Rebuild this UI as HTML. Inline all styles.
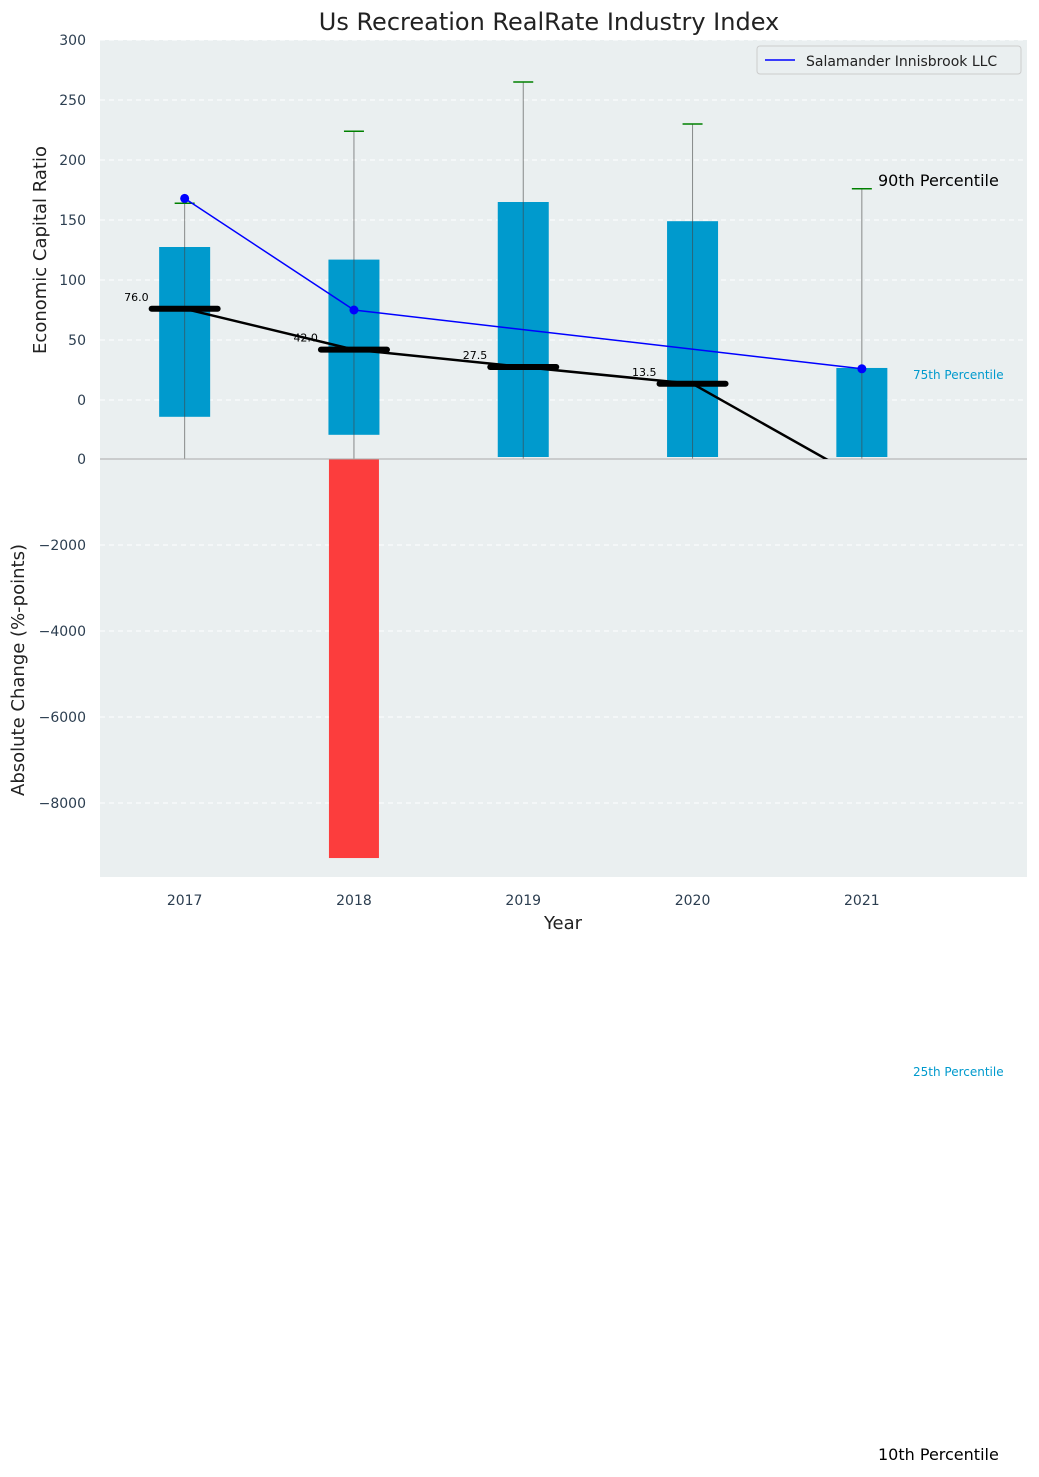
<!DOCTYPE html>
<html><head><meta charset="utf-8"><style>
body{margin:0;background:#fff;font-family:"DejaVu Sans","Liberation Sans",sans-serif}
</style></head><body>
<svg id="c" width="1039" height="1473" xmlns="http://www.w3.org/2000/svg" font-family="DejaVu Sans, Liberation Sans, sans-serif"></svg>
<script>
const years=[2017,2018,2019,2020,2021];
const q75=[127.5,117,165,149,26.7];
const q25=[-14,-29,-48,-48,-48];
const p90=[164,224,265,230,176];
const medians=[76,42,27.5,13.5,-66];
const medianLabels=["76.0","42.0","27.5","13.5"];
const companyYears=[2017,2018,2021];
const companyVals=[168,75,26];
const changeVals=[0,-9280,0,0,0];
const upperTicks=[300,250,200,150,100,50,0];
const lowerTicks=[0,-2000,-4000,-6000,-8000];

const svg=document.getElementById('c');const NS='http://www.w3.org/2000/svg';
function el(t,a,txt){const e=document.createElementNS(NS,t);for(const k in a)e.setAttribute(k,a[k]);if(txt!==undefined)e.textContent=txt;svg.appendChild(e);return e;}
const L=100,R=1027,T=40,B=877,MID=459;
const x=v=>L+(v-2016.5)*169.3;
const yU=v=>400-v*1.2;
const yL=v=>MID-v*(-86/-2000);
let e;
e=el('rect',{x:L,y:T,width:R-L,height:B-T,fill:'#eaeff0'});

upperTicks.forEach(t=>{e=el('line',{x1:L,x2:R,y1:yU(t),y2:yU(t),stroke:'#fff','stroke-dasharray':'5,4'});
e=el('text',{x:L-14,y:yU(t)+5,'text-anchor':'end','font-size':14,fill:'#2c3e50'},t);});
lowerTicks.forEach(t=>{if(t!==0){e=el('line',{x1:L,x2:R,y1:yL(t),y2:yL(t),stroke:'#fff','stroke-dasharray':'5,4'});}
e=el('text',{x:L-14,y:yL(t)+5,'text-anchor':'end','font-size':14,fill:'#2c3e50'},String(t).replace('-','\u2212'));});
// change bars
years.forEach((yr,i)=>{if(changeVals[i]<0){e=el('rect',{x:x(yr)-25,y:MID,width:50,height:yL(changeVals[i])-MID,fill:'#fc3d3d'});}});
// boxes
years.forEach((yr,i)=>{const top=yU(q75[i]),bot=Math.min(yU(q25[i]),457);
e=el('rect',{x:x(yr)-25.5,y:top,width:51,height:bot-top,fill:'#009acd'});
e=el('line',{x1:x(yr),x2:x(yr),y1:MID,y2:yU(p90[i]),stroke:'#444','stroke-opacity':0.6,'stroke-width':1});
e=el('line',{x1:x(yr)-10,x2:x(yr)+10,y1:yU(p90[i]),y2:yU(p90[i]),stroke:'green','stroke-width':1.5});});
el('line',{x1:L,x2:R,y1:MID,y2:MID,stroke:'#aaa','stroke-width':1});
const cp=el('clipPath',{id:'cp'});const cr=document.createElementNS(NS,'rect');cr.setAttribute('x',L);cr.setAttribute('y',T);cr.setAttribute('width',R-L);cr.setAttribute('height',MID-T);cp.appendChild(cr);
e=el('polyline',{points:years.map((yr,i)=>x(yr)+','+yU(medians[i])).join(' '),fill:'none',stroke:'#000','stroke-width':2.5,'clip-path':'url(#cp)'});
medianLabels.forEach((lb,i)=>{const yr=years[i];
e=el('line',{x1:x(yr)-33,x2:x(yr)+33,y1:yU(medians[i]),y2:yU(medians[i]),stroke:'#000','stroke-width':6,'stroke-linecap':'round'});
e=el('text',{x:x(yr)-36,y:yU(medians[i])-8,'text-anchor':'end','font-size':11,fill:'#000'},lb);});
e=el('polyline',{points:companyYears.map((yr,i)=>x(yr)+','+yU(companyVals[i])).join(' '),fill:'none',stroke:'#0000ff','stroke-width':1.5});
companyYears.forEach((yr,i)=>{e=el('circle',{cx:x(yr),cy:yU(companyVals[i]),r:4.5,fill:'#0000ff'});});
years.forEach(yr=>{e=el('text',{x:x(yr),y:905,'text-anchor':'middle','font-size':14,fill:'#2c3e50'},yr);});
e=el('text',{x:563,y:929,'text-anchor':'middle','font-size':18,fill:'#222'},'Year');
e=el('text',{x:549,y:30,'text-anchor':'middle','font-size':24,fill:'#222'},'Us Recreation RealRate Industry Index');
e=el('text',{x:0,y:0,transform:'translate(46,250) rotate(-90)','text-anchor':'middle','font-size':18,fill:'#222'},'Economic Capital Ratio');
e=el('text',{x:0,y:0,transform:'translate(24,670) rotate(-90)','text-anchor':'middle','font-size':18,fill:'#222'},'Absolute Change (%-points)');
e=el('rect',{x:757,y:46,width:264,height:28,fill:'#eaeff0',stroke:'#ccc',rx:3});
el('line',{x1:765,x2:795,y1:60,y2:60,stroke:'#0000ff','stroke-width':1.5});
e=el('text',{x:806,y:66,'font-size':14,fill:'#222'},'Salamander Innisbrook LLC');
e=el('text',{x:878,y:186,'font-size':16,fill:'#000'},'90th Percentile');
e=el('text',{x:913,y:379,'font-size':12,fill:'#009acd'},'75th Percentile');
e=el('text',{x:913,y:1076,'font-size':12,fill:'#009acd'},'25th Percentile');
e=el('text',{x:878,y:1460,'font-size':16,fill:'#000'},'10th Percentile');
</script>
</body></html>
